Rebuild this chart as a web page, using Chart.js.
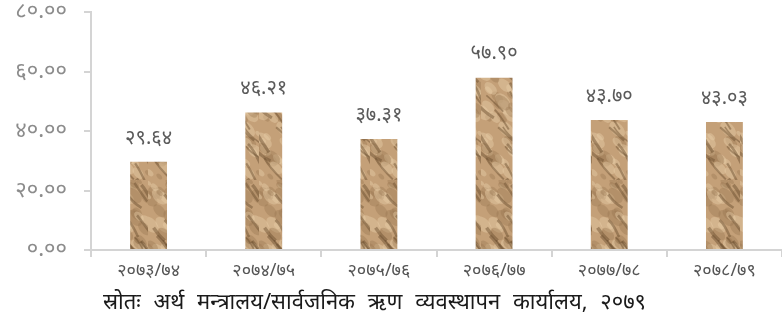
<!DOCTYPE html>
<html>
<head>
<meta charset="utf-8">
<script src="https://cdn.jsdelivr.net/npm/chart.js@4"></script>
<style>
  body { margin: 0; background: #fff; width: 782px; height: 325px; overflow: hidden; }
  #wrap { position: relative; width: 782px; height: 288px; }
  #source {
    position: absolute; left: 103px; top: 285px;
    font-family: 'Noto Sans', 'Noto Sans Devanagari', sans-serif;
    font-size: 22px; word-spacing: 7px; color: #1a1a1a; white-space: nowrap;
  }
</style>
</head>
<body>
<div id="wrap"><canvas id="chart"></canvas></div>
<div id="source">स्रोतः अर्थ मन्त्रालय/सार्वजनिक ऋण व्यवस्थापन कार्यालय, २०७९</div>
<script>
// Fiscal years (Nepali)
const categories = ['२०७३/७४', '२०७४/७५', '२०७५/७६', '२०७६/७७', '२०७७/७८', '२०७८/७९'];
// Values
const values = [29.64, 46.21, 37.31, 57.90, 43.70, 43.03];
const yTicks = [0, 20, 40, 60, 80];

// Convert latin digits to Devanagari
function toNepali(str) {
    const digits = ['०', '१', '२', '३', '४', '५', '६', '७', '८', '९'];
    return String(str).replace(/[0-9]/g, d => digits[+d]);
}

// Stone-like texture for the bars
function makeTexture() {
    const c = document.createElement('canvas');
    c.width = 37; c.height = 180;
    const g = c.getContext('2d');
    g.fillStyle = '#c4a078';
    g.fillRect(0, 0, c.width, c.height);
    let seed = 11;
    const rnd = () => { seed = (seed * 9301 + 49297) % 233280; return seed / 233280; };
    // soft blotches
    for (let i = 0; i < 80; i++) {
        const x = rnd() * 37, y = rnd() * 180, r = 3 + rnd() * 7;
        const light = rnd() < 0.5;
        g.fillStyle = light ? 'rgba(230,204,166,0.45)' : 'rgba(150,115,78,0.35)';
        g.beginPath();
        g.ellipse(x, y, r, r * 0.6, 0.8, 0, Math.PI * 2);
        g.fill();
    }
    // diagonal dark creases
    for (let i = 0; i < 26; i++) {
        const x = rnd() * 37 - 6, y = rnd() * 180;
        g.strokeStyle = 'rgba(105,75,45,0.45)';
        g.lineWidth = 1.5 + rnd() * 2;
        g.beginPath();
        g.moveTo(x, y);
        g.quadraticCurveTo(x + 5, y + 4 + rnd() * 6, x + 10 + rnd() * 8, y + 12 + rnd() * 10);
        g.stroke();
    }
    return g.createPattern(c, 'repeat');
}

const valueLabels = {
    id: 'valueLabels',
    afterDatasetsDraw(chart) {
        const ctx = chart.ctx;
        const meta = chart.getDatasetMeta(0);
        ctx.save();
        ctx.font = '20px "Noto Sans", sans-serif';
        ctx.fillStyle = '#5a5a5a';
        ctx.textAlign = 'center';
        ctx.textBaseline = 'middle';
        meta.data.forEach((bar, i) => {
            ctx.fillText(toNepali(values[i].toFixed(2)), bar.x, bar.y - 24);
        });
        ctx.restore();
    }
};

new Chart(document.getElementById('chart'), {
    type: 'bar',
    data: {
        labels: categories,
        datasets: [{
            data: values,
            backgroundColor: makeTexture(),
            borderWidth: 0,
            categoryPercentage: 1,
            barPercentage: 0.32
        }]
    },
    options: {
        responsive: true,
        maintainAspectRatio: false,
        animation: false,
        layout: { padding: { top: 12, right: 0, left: 0, bottom: 0 } },
        plugins: { legend: { display: false }, tooltip: { enabled: false } },
        scales: {
            y: {
                min: 0, max: 80,
                afterFit: s => { s.width = 91; s.paddingTop = 0; s.paddingBottom = 0; },
                afterBuildTicks: s => { s.ticks = yTicks.map(v => ({ value: v })); },
                ticks: {
                    color: '#8c8c8c',
                    font: { family: 'Noto Sans', size: 22 },
                    padding: 17,
                    callback: v => toNepali(Number(v).toFixed(2))
                },
                grid: { drawOnChartArea: false, tickLength: 7, color: '#d4d4d4', lineWidth: 2 },
                border: { color: '#d4d4d4', width: 2 }
            },
            x: {
                afterFit: s => { s.height = 38; s.paddingRight = 0; },
                ticks: {
                    color: '#555555',
                    font: { family: 'Noto Sans', size: 18 },
                    padding: 3,
                    maxRotation: 0
                },
                grid: { offset: true, drawOnChartArea: false, tickLength: 7, color: '#d4d4d4', lineWidth: 2 },
                border: { color: '#d4d4d4', width: 2 }
            }
        }
    },
    plugins: [valueLabels]
});
</script>
</body>
</html>
